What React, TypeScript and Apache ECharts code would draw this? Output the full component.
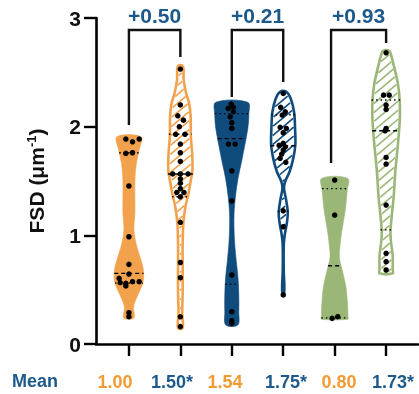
import React, { useEffect, useRef } from "react";
import * as echarts from "echarts";

// ---------- DATA ----------
// group positions on the x axis (1..6): orange, orange*, blue, blue*, green, green*
const groupPositions = [1, 2, 3, 4, 5, 6];

// dots: [x-jitter (category units), FSD value]
const dotsOrange: number[][] = [
  [-0.06, 1.886], [0.07, 1.861], [0.2, 1.886], [-0.06, 1.754], [0.07, 1.76], [0, 1.454],
  [0, 0.987], [0, 0.733], [0, 0.644], [-0.19, 0.604], [-0.17, 0.564], [-0.06, 0.558],
  [0.07, 0.573], [0.2, 0.573], [-0.06, 0.534], [0, 0.288], [0, 0.251],
];
const dotsOrangeStar: number[][] = [
  [0, 2.53], [0, 2.2], [-0.05, 2.1], [0.06, 2.06], [-0.02, 2.0], [-0.09, 1.93], [0.09, 1.93],
  [0, 1.84], [0, 1.76], [0, 1.68], [-0.15, 1.565], [0, 1.565], [0.15, 1.565], [0, 1.52],
  [0, 1.48], [0, 1.43], [-0.07, 1.395], [0.07, 1.395], [0, 1.355], [0, 1.12], [0, 0.75],
  [0, 0.61], [0, 0.25], [0, 0.16],
];
const dotsBlue: number[][] = [
  [-0.01, 2.208], [0.03, 2.178], [-0.07, 2.168], [0.03, 2.137], [-0.03, 2.091], [0, 2.036],
  [0, 1.984], [-0.065, 1.84], [0.065, 1.84], [0, 1.594], [0, 1.316], [0, 0.635], [0, 0.297],
  [0, 0.214], [0, 0.19],
];
const dotsBlueStar: number[][] = [
  [0, 2.306], [-0.05, 2.178], [0.04, 2.137], [-0.02, 2.107], [-0.06, 1.994], [0.06, 1.984],
  [0, 1.944], [0, 1.846], [-0.08, 1.828], [0.04, 1.815], [0, 1.785], [-0.03, 1.748],
  [-0.06, 1.708], [0.05, 1.672], [0, 1.226], [0, 1.079], [0, 0.451],
];
const dotsGreen: number[][] = [[0, 1.509], [0, 1.187], [-0.05, 0.236], [0.06, 0.251]];
const dotsGreenStar: number[][] = [
  [0, 2.68], [-0.05, 2.29], [0.06, 2.29], [0, 2.199], [0, 2.159], [0, 1.984], [-0.02, 1.962],
  [0, 1.717], [0, 1.656], [0, 1.279], [0, 0.834], [0, 0.757], [0, 0.681],
];
const allDots = [dotsOrange, dotsOrangeStar, dotsBlue, dotsBlueStar, dotsGreen, dotsGreenStar];

// violin outlines: [FSD value, half width (category units)], top to bottom
const shapeOrange: number[][] = [
  [1.907, 0.233], [1.785, 0.2], [1.665, 0.146], [1.509, 0.117], [1.205, 0.117], [1.049, 0.097],
  [0.892, 0.156], [0.745, 0.253], [0.653, 0.286], [0.561, 0.272], [0.432, 0.156], [0.34, 0.088],
  [0.239, 0.097],
];
const shapeOrangeStar: number[][] = [
  [2.557, 0.049], [2.43, 0.064], [2.306, 0.113], [2.214, 0.171], [2.09, 0.2], [1.907, 0.204],
  [1.754, 0.23], [1.6, 0.235], [1.509, 0.204], [1.386, 0.158], [1.263, 0.099], [1.113, 0.058],
  [0.929, 0.045], [0.711, 0.045], [0.47, 0.045], [0.285, 0.035], [0.147, 0.045],
];
const shapeBlue: number[][] = [
  [2.224, 0.311], [2.107, 0.331], [1.984, 0.311], [1.831, 0.253], [1.677, 0.189], [1.524, 0.121],
  [1.37, 0.074], [1.217, 0.045], [1.063, 0.043], [0.911, 0.058], [0.757, 0.088], [0.604, 0.121],
  [0.451, 0.136], [0.297, 0.136], [0.175, 0.117],
];
const shapeBlueStar: number[][] = [
  [2.32, 0.06], [2.26, 0.145], [2.137, 0.21], [1.984, 0.23], [1.831, 0.235], [1.708, 0.195],
  [1.585, 0.123], [1.493, 0.035], [1.432, 0.015], [1.34, 0.051], [1.217, 0.088], [1.125, 0.074],
  [1.003, 0.029], [0.911, 0.01], [0.666, 0.01], [0.543, 0.021], [0.466, 0.015],
];
const shapeGreen: number[][] = [
  [1.524, 0.253], [1.413, 0.243], [1.227, 0.204], [1.043, 0.14], [0.92, 0.107], [0.798, 0.091],
  [0.681, 0.146], [0.527, 0.218], [0.374, 0.249], [0.251, 0.259], [0.227, 0.259],
];
const shapeGreenStar: number[][] = [
  [2.698, 0.06], [2.666, 0.093], [2.557, 0.152], [2.404, 0.226], [2.25, 0.263], [2.097, 0.268],
  [1.944, 0.249], [1.79, 0.22], [1.576, 0.177], [1.361, 0.148], [1.177, 0.109], [1.024, 0.084],
  [0.932, 0.097], [0.81, 0.128], [0.687, 0.128], [0.65, 0.128],
];
const allShapes = [shapeOrange, shapeOrangeStar, shapeBlue, shapeBlueStar, shapeGreen, shapeGreenStar];

// median (dashed) and quartiles (dotted)
const medians = [0.65, 1.564, 1.89, 1.825, 0.72, 1.962];
const lowerQuartiles = [0.56, 1.355, 0.55, 1.22, 0.24, 1.05];
const upperQuartiles = [1.76, 1.93, 2.12, 2.11, 1.43, 2.245];

// means shown below the axis
const means = [1.0, 1.5, 1.54, 1.75, 0.8, 1.73];
const meanMarks = ["", "*", "", "*", "", "*"];
const meanRowLabel = "Mean";

// comparison brackets: [left x, right x], bracket top, leg ends
const bracketPairs: number[][] = [[1, 2], [3, 4], [4.93, 6]];
const bracketTop = 2.889;
const bracketLegEnds: number[][] = [[2.015, 2.64], [2.272, 2.41], [1.665, 2.769]];
const bracketPairsMeans: number[][] = [[0, 1], [2, 3], [4, 5]];

const yTicks = { min: 0, max: 3, interval: 1 };
const yAxisName = "FSD (μm{sup|-1})";

// ---------- STYLES ----------
const ORANGE = "#F2A24C";
const BLUE = "#0F4B7D";
const GREEN = "#9BB777";
const TEXT_BLUE = "#1D5A8C";
const TEXT_ORANGE = "#F39A33";
const FONT = '"Liberation Sans", Arial, sans-serif';
const shapeColors = [ORANGE, ORANGE, BLUE, BLUE, GREEN, GREEN];
const hatchedFlags = [false, true, false, true, false, true];
const meanColors = [TEXT_ORANGE, TEXT_BLUE, TEXT_ORANGE, TEXT_BLUE, TEXT_ORANGE, TEXT_BLUE];
const meanCenters = [115, 172, 225, 286, 339, 393];

export default function App() {
  const ref = useRef<HTMLDivElement>(null);

  useEffect(() => {
    if (!ref.current) return;
    const chart = echarts.init(ref.current, undefined, { renderer: "svg" });

    const violinRender = (params: any, api: any) => {
      const i = params.dataIndex;
      const xc = api.value(0);
      const prof = allShapes[i];
      const cx = api.coord([xc, 0])[0];
      const unit = api.size([1, 0])[0];
      const pts = prof.map(([v, hw]) => [api.coord([xc, v])[1], hw * unit]);
      const left = pts.map(([py, w]) => [cx - w, py]);
      const right = pts.map(([py, w]) => [cx + w, py]).reverse();
      const poly = left.concat(right);
      const color = shapeColors[i];
      const hatched = hatchedFlags[i];
      const top = pts[0][0];
      const bot = pts[pts.length - 1][0];
      const hwAt = (y: number) => {
        if (y <= top) return pts[0][1];
        for (let k = 0; k < pts.length - 1; k++) {
          const [y0, w0] = pts[k];
          const [y1, w1] = pts[k + 1];
          if (y >= y0 && y <= y1) return w0 + ((w1 - w0) * (y - y0)) / (y1 - y0 || 1);
        }
        return pts[pts.length - 1][1];
      };
      const children: any[] = [];
      children.push({
        type: "polygon",
        shape: { points: poly, smooth: 0.35 },
        style: { fill: hatched ? "#fff" : color, stroke: hatched ? "none" : color, lineWidth: 0.6 },
      });
      if (hatched) {
        const s = Math.tan((40 * Math.PI) / 180);
        const maxW = Math.max(...pts.map((p) => p[1]));
        const period = 9;
        for (let c = top - s * maxW - period; c <= bot + s * maxW + period; c += period) {
          let start: number[] | null = null;
          let last: number[] | null = null;
          for (let x = cx - maxW; x <= cx + maxW + 0.5; x += 0.5) {
            const y = c - s * (x - cx);
            const inside = y >= top + 1.5 && y <= bot - 1.5 && Math.abs(x - cx) <= hwAt(y) - 1.3;
            if (inside) {
              if (!start) start = [x, y];
              last = [x, y];
            } else if (start && last) {
              children.push({
                type: "line",
                shape: { x1: start[0], y1: start[1], x2: last[0], y2: last[1] },
                style: { stroke: color, lineWidth: 1.6 },
              });
              start = null;
              last = null;
            }
          }
          if (start && last) {
            children.push({
              type: "line",
              shape: { x1: start[0], y1: start[1], x2: last[0], y2: last[1] },
              style: { stroke: color, lineWidth: 1.6 },
            });
          }
        }
        children.push({
          type: "polygon",
          shape: { points: poly, smooth: 0.35 },
          style: { fill: "none", stroke: color, lineWidth: 2.6 },
        });
      }
      const qLine = (v: number, dash: number[]) => {
        const py = api.coord([xc, v])[1];
        const w = hwAt(py) + (hatched ? 1 : 0);
        children.push({
          type: "line",
          shape: { x1: cx - w, y1: py, x2: cx + w, y2: py },
          style: { stroke: "#000", lineWidth: 1.4, lineDash: dash },
        });
      };
      qLine(medians[i], [4, 3]);
      qLine(lowerQuartiles[i], [1.5, 3]);
      qLine(upperQuartiles[i], [1.5, 3]);
      return { type: "group", children };
    };

    const bracketRender = (params: any, api: any) => {
      const i = params.dataIndex;
      const [xa, xb] = bracketPairs[i];
      const [la, lb] = bracketLegEnds[i];
      const p1 = api.coord([xa, la]);
      const p2 = api.coord([xa, bracketTop]);
      const p3 = api.coord([xb, bracketTop]);
      const p4 = api.coord([xb, lb]);
      const [ma, mb] = bracketPairsMeans[i];
      const diff = means[mb] - means[ma];
      const label = (diff >= 0 ? "+" : "") + diff.toFixed(2);
      return {
        type: "group",
        children: [
          {
            type: "polyline",
            shape: { points: [p1, p2, p3, p4] },
            style: { stroke: "#111", lineWidth: 2.4, fill: "none" },
          },
          {
            type: "text",
            x: (p2[0] + p3[0]) / 2,
            y: p2[1] - 15,
            style: {
              text: label,
              fill: TEXT_BLUE,
              fontSize: 21,
              fontWeight: "bold",
              fontFamily: FONT,
              align: "center",
              verticalAlign: "middle",
            },
          },
        ],
      };
    };

    const scatterData: number[][] = [];
    allDots.forEach((arr, gi) => {
      arr.forEach(([dx, v]) => scatterData.push([groupPositions[gi] + dx, v]));
    });

    const graphics: any[] = [
      {
        type: "text",
        left: 12,
        top: 372,
        style: {
          text: meanRowLabel,
          fill: TEXT_BLUE,
          fontSize: 18,
          fontWeight: "bold",
          fontFamily: FONT,
        },
      },
    ];
    means.forEach((m, i) => {
      graphics.push({
        type: "text",
        x: meanCenters[i],
        y: 382,
        style: {
          text: m.toFixed(2) + meanMarks[i],
          fill: meanColors[i],
          fontSize: 18,
          fontWeight: "bold",
          fontFamily: FONT,
          align: "center",
          verticalAlign: "middle",
        },
      });
    });

    chart.setOption({
      animation: false,
      grid: { left: 96, right: 1, top: 18, bottom: 50 },
      xAxis: {
        type: "value",
        min: 0.36,
        max: 6.62,
        axisLine: { show: true, lineStyle: { color: "#000", width: 2.6 } },
        axisTick: {
          show: true,
          customValues: groupPositions,
          length: 12,
          lineStyle: { color: "#000", width: 2.4 },
        },
        axisLabel: { show: false },
        splitLine: { show: false },
      },
      yAxis: {
        type: "value",
        min: yTicks.min,
        max: yTicks.max,
        interval: yTicks.interval,
        name: yAxisName,
        nameLocation: "middle",
        nameRotate: 90,
        nameGap: 48,
        nameTextStyle: {
          color: "#111",
          fontSize: 21,
          fontWeight: "bold",
          fontFamily: FONT,
          rich: {
            sup: {
              fontSize: 13,
              fontWeight: "bold",
              fontFamily: FONT,
              color: "#111",
              verticalAlign: "top",
              padding: [0, 0, 10, 0],
            },
          },
        },
        axisLine: { show: true, lineStyle: { color: "#000", width: 2.6 } },
        axisTick: { show: true, length: 12, lineStyle: { color: "#000", width: 2.4 } },
        axisLabel: {
          color: "#111",
          fontSize: 21,
          fontWeight: "bold",
          fontFamily: FONT,
          margin: 15,
        },
        splitLine: { show: false },
      },
      series: [
        {
          type: "custom",
          renderItem: violinRender,
          data: groupPositions.map((p) => [p]),
          encode: { x: 0 },
          clip: false,
          z: 2,
          silent: true,
        },
        {
          type: "scatter",
          data: scatterData,
          symbolSize: 5.5,
          itemStyle: { color: "#000", opacity: 1 },
          z: 5,
          silent: true,
        },
        {
          type: "custom",
          renderItem: bracketRender,
          data: bracketPairs.map((p) => [p[0]]),
          encode: { x: 0 },
          clip: false,
          z: 6,
          silent: true,
        },
      ],
      graphic: graphics,
    });

    return () => chart.dispose();
  }, []);

  return (
    <div
      ref={ref}
      style={{ position: "fixed", left: 0, top: 0, width: 419, height: 394 }}
    />
  );
}
